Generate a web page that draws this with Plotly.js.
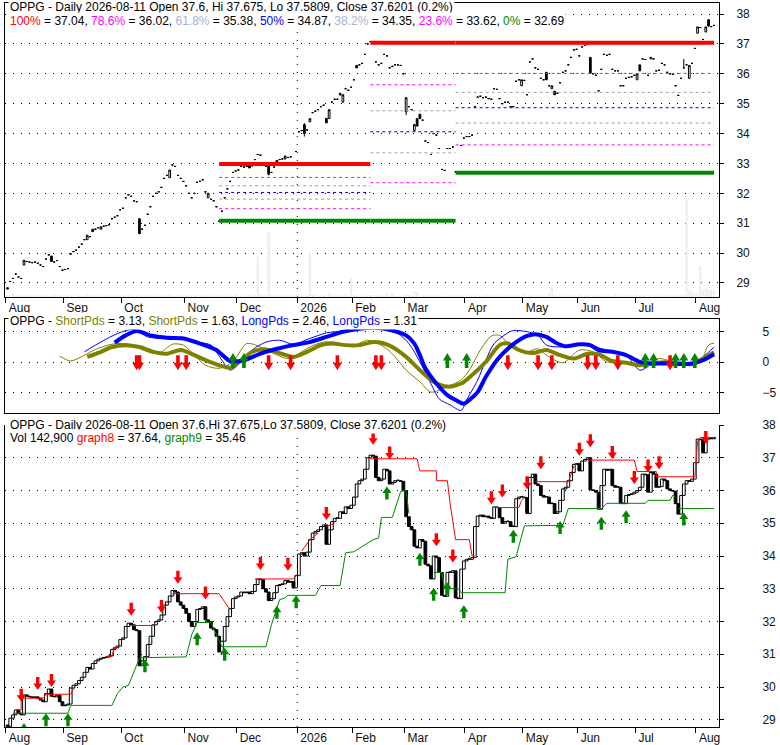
<!DOCTYPE html>
<html><head><meta charset="utf-8">
<script src="https://cdn.plot.ly/plotly-3.0.1.min.js"></script>
<style>html,body{margin:0;padding:0;background:#fff}#chart{width:780px;height:745px}</style>
</head><body><div id="chart"></div>
<script>
// ---------- DATA ----------
const holidays = ['2025-09-01','2025-11-27','2025-12-25','2026-01-01','2026-01-19','2026-02-16','2026-04-03','2026-05-25','2026-06-19','2026-07-03'];
const monthLabels = ['Aug','Sep','Oct','Nov','Dec','2026','Feb','Mar','Apr','May','Jun','Jul','Aug'];

// daily closes, trading day 0 = 2025-08-01 ... last = 2026-08-11
const closes = [
28.80,29.05,29.15,29.30,29.20,29.15,29.76,29.72,29.70,29.68,
29.70,29.66,29.60,29.55,29.80,29.94,29.72,29.70,29.75,29.55,
29.43,29.45,29.48,29.97,30.05,30.10,30.20,30.30,30.45,30.60,
30.55,30.72,30.80,30.85,30.88,30.90,30.92,30.95,31.15,31.20,
31.25,31.45,31.50,31.85,31.95,31.90,31.75,31.72,30.65,30.80,
30.93,31.30,31.55,31.90,32.00,32.05,32.20,32.50,32.60,32.78,
32.95,32.90,32.60,32.50,32.40,32.25,32.00,31.85,32.00,32.37,
32.40,32.45,32.05,32.00,31.80,31.75,31.55,31.07,31.40,31.85,
32.15,32.40,32.70,32.75,32.78,32.90,32.88,32.90,32.85,32.92,
33.13,33.30,33.28,33.00,32.90,32.64,32.70,32.88,33.10,33.13,
33.15,33.25,33.20,33.22,33.03,33.40,34.06,34.10,34.00,34.12,
34.50,34.70,34.75,34.80,34.90,34.95,34.36,34.80,35.05,35.15,
35.15,35.35,35.30,35.50,35.45,35.55,35.80,36.20,36.30,36.35,
36.65,37.00,37.08,37.05,36.40,36.30,36.35,36.65,36.60,36.20,
36.25,36.30,36.30,36.28,36.00,35.20,34.90,34.80,34.30,34.25,
34.50,34.45,33.75,33.70,33.30,34.00,33.95,33.50,32.80,32.77,
33.50,33.50,33.55,32.72,32.70,33.60,33.85,33.90,33.90,33.95,
34.90,35.22,35.25,35.20,35.22,35.17,35.15,35.50,35.48,35.17,
35.00,35.05,35.05,34.90,34.90,35.75,35.80,35.80,35.78,35.30,
36.40,36.50,36.20,36.15,35.85,35.80,35.80,35.60,35.60,35.30,
35.35,35.70,36.05,36.10,36.30,36.55,36.80,36.82,36.60,36.90,
36.95,37.00,36.02,36.00,35.95,35.43,36.15,36.65,36.62,36.65,
36.15,36.10,36.10,35.60,35.60,35.85,35.88,35.90,35.95,36.00,
36.10,36.50,36.48,35.95,36.55,36.50,36.10,36.12,36.35,36.30,
36.05,36.00,35.98,35.60,35.28,35.85,36.20,36.30,36.28,36.35,
36.85,37.57,37.55,37.15,37.57,37.60,37.58,37.62];
const firstOpen = 28.84;

// visible candle bodies in the price panel: [day, open]
const bodyOpens = [[0,28.84],[6,29.6],[16,29.9],[29,30.45],[31,30.8],[34,30.8],[48,31.15],[59,32.52],[73,31.85],
 [88,32.92],[95,32.9],[98,33.02],[101,33.15],[108,34.3],[110,34.39],[116,34.51],[117,34.5],[121,35.29],[122,35.05],
 [127,36.28],[145,34.73],[148,34.1],[149,34.5],[150,34.65],[187,35.6],[196,36.05],[198,35.5],[199,35.42],[212,36.55],
 [229,35.8],[230,36.3],[234,36.5],[248,35.85],[251,37.36],[254,37.4],[255,37.81]];
// wicks: [day, high, low]
const wicks = [[95,32.92,32.6],[108,34.35,33.9],[145,35.22,34.62],[246,36.5,36.2],[255,37.81,37.58]];

// volume (thousands)
const volume = [
30,35,80,40,30,35,40,50,30,30,35,30,30,40,35,30,30,60,30,35,
30,30,35,40,30,30,30,35,30,60,30,30,35,30,30,30,35,30,30,30,
30,50,30,30,60,30,35,30,40,30,30,35,30,30,30,30,35,30,30,60,
30,30,35,30,30,30,30,50,30,30,30,35,30,30,30,30,35,30,40,30,
30,30,35,60,30,30,30,30,60,30,40,820,60,40,40,1330,50,40,35,30,
30,35,30,30,30,40,50,45,40,40,920,60,40,35,30,30,40,80,35,30,
30,35,30,60,30,390,40,35,30,30,30,35,40,40,35,30,30,35,80,30,
80,30,35,30,40,60,50,45,120,100,40,35,30,30,35,30,30,35,30,30,
30,35,30,30,30,35,30,30,30,35,30,30,30,35,60,30,30,35,30,30,
30,35,30,30,30,35,30,30,70,30,30,35,30,30,30,35,30,80,200,60,
30,35,30,30,30,35,30,30,60,30,30,35,30,30,30,35,30,30,30,35,
30,60,30,30,30,35,30,30,30,60,30,35,30,30,30,35,30,30,30,35,
30,35,30,30,40,35,50,2080,150,120,60,80,630,150,180,160,140,143];

// Fibonacci retracement sets
const fibFrom = [77, 132, 163];
const fibTo   = [132, 163, 257];
const fibHigh = [32.98, 37.04, 37.04];
const fibLow  = [31.08, 31.08, 32.69];
const fibRatios = [0.764, 0.618, 0.5, 0.382, 0.214];

// oscillator panel: [day, value]
const shortFast = [[19,1.0],[23,0.2],[28,1.15],[32,2.1],[38,2.95],[43,3.06],[47,2.5],[51,1.7],[55,1.4],[60,2.95],[64,2.8],[68,1.15],[72,-0.5],[77,-1.0],[82,0.05],[87,3.06],[92,2.5],[97,1.4],[102,0.6],[105,1.15],[110,2.5],[115,3.3],[120,3.2],[125,2.6],[131,3.6],[135,3.0],[138,2.2],[141,0.87],[145,-1.3],[150,-3.2],[154,-4.9],[160,-4.0],[165,-2.9],[168,-1.3],[172,2.0],[176,4.3],[179,4.4],[184,2.2],[189,1.7],[193,2.2],[196,1.15],[202,-0.1],[208,2.0],[213,1.7],[218,0.05],[223,-0.1],[228,-0.2],[233,-0.5],[237,0.6],[242,0.05],[247,-0.5],[252,0.05],[255,2.8],[257,3.13]];
const shortSlow = [[29,0.87],[34,1.7],[38,2.5],[43,2.8],[48,2.5],[53,1.7],[58,1.4],[63,2.0],[68,1.15],[72,0.33],[77,-0.5],[81,-0.9],[85,0.3],[89,1.7],[94,2.1],[99,1.5],[104,0.87],[109,1.7],[114,2.8],[118,3.06],[123,2.8],[128,2.8],[133,3.3],[136,3.2],[140,2.5],[145,0.87],[150,-1.3],[155,-3.2],[160,-4.0],[165,-3.5],[169,-2.1],[174,0.05],[179,2.8],[182,3.06],[186,2.0],[191,1.5],[196,2.0],[201,1.15],[206,0.6],[211,1.4],[215,1.3],[220,0.2],[225,-0.1],[230,-0.5],[235,-0.2],[240,0.05],[245,-0.2],[249,-0.3],[253,0.6],[257,1.63]];
const longFast = [[28,1.7],[32,2.8],[40,4.7],[46,5.4],[51,4.15],[57,3.9],[63,4.0],[69,3.3],[74,2.8],[78,0.33],[81,-1.3],[85,0.05],[89,2.0],[94,3.3],[99,3.6],[104,2.95],[110,3.9],[116,4.8],[122,5.1],[128,5.7],[131,5.7],[136,5.4],[142,4.7],[146,3.06],[150,0.05],[154,-3.5],[157,-6.0],[161,-7.0],[165,-7.9],[167,-6.2],[171,-2.95],[174,0.33],[177,3.06],[182,4.8],[184,5.2],[189,5.0],[193,4.4],[196,2.8],[201,2.5],[206,2.8],[211,3.06],[216,2.2],[220,1.7],[225,1.15],[230,-1.3],[235,-0.2],[240,-0.1],[245,-0.5],[250,-0.1],[253,0.87],[257,2.46]];
const longSlow = [[39,3.2],[43,4.4],[47,5.1],[52,4.4],[58,4.0],[64,3.9],[70,3.06],[76,2.0],[81,0.2],[86,0.33],[92,1.4],[98,2.2],[104,2.8],[110,3.3],[116,4.15],[122,5.0],[128,5.5],[135,5.6],[140,5.2],[145,4.4],[148,3.06],[150,1.15],[152,-1.0],[156,-3.5],[160,-5.4],[163,-6.2],[166,-6.8],[168,-6.2],[171,-4.9],[174,-2.4],[178,0.33],[182,2.2],[185,3.3],[189,4.3],[192,4.6],[196,4.15],[200,3.06],[203,2.6],[208,2.95],[212,2.8],[215,2.0],[220,1.7],[225,1.15],[230,0.05],[235,-0.2],[240,-0.2],[245,-0.3],[249,-0.2],[253,0.33],[257,1.31]];
const oscSellDays = [47,48,62,65,95,103,120,134,136,182,193,198,211,214,222,241];
const oscBuyDays  = [82,86,160,167,232,235,243,246,250];

// lower panel stop lines: [day, value], null = gap
const stopHigh = [[3,29.3],[5,29.3],[5,29.66],[13,29.66],[14,29.78],[23,29.78],[24,29.95],null,
 [36,30.93],[38,30.95],[39,31.2],[41,31.3],null,[45,31.88],[53,31.88],[54,32.0],null,
 [60,32.85],[77,32.85],[79,32.6],[81,32.36],null,[90,33.3],[104,33.3],[105,33.4],null,
 [107,34.15],[110,34.5],[113,34.7],null,[116,34.9],[119,35.0],null,
 [132,36.97],[149,36.97],[150,36.6],[156,36.6],[156,36.3],[160,36.3],[161,35.6],[162,35.0],[163,34.5],[168,34.5],[169,34.0],[170,34.0],null,
 [177,35.48],[186,35.48],[187,35.7],[188,35.8],null,[192,36.27],[204,36.27],[205,36.5],[206,36.75],null,
 [211,36.93],[228,36.93],[229,36.58],[236,36.58],[236,36.42],[250,36.42],[251,37.5],[252,37.62],[257,37.62]];
const stopLow = [[2,29.2],[22,29.2],[23,29.44],[38,29.44],[40,29.8],[42,30.0],[44,30.05],[47,30.68],[48,30.88],[51,30.9],[65,30.92],[67,31.6],[69,31.97],[74,31.97],[76,31.6],[78,31.23],[94,31.23],[96,31.9],[99,32.67],[101,32.72],[102,32.8],[112,32.8],[114,33.1],[121,33.1],[123,34.1],[126,34.13],[133,34.5],[135,34.55],[136,35.18],[140,35.18],[143,35.97],[145,36.0],[146,35.3],null,
 [155,33.5],[158,33.5],[159,33.0],[164,33.0],[165,32.88],[181,32.88],[182,33.9],[185,33.98],[188,34.92],[202,34.94],[204,35.45],[216,35.45],[218,35.61],[232,35.61],[233,35.7],[241,35.7],[242,35.86],[243,35.8],null,
 [244,35.45],[257,35.45]];
// signal arrows in lower panel: [day, price at tip]
const sellSignals = [[5,29.55],[11,29.91],[16,30.0],[45,32.18],[56,32.26],[62,33.15],[72,32.67],[92,33.57],[102,33.55],[116,35.1],[133,37.4],[139,36.95],[156,34.3],[162,33.8],[176,35.58],[180,35.79],[189,36.04],[194,36.65],[208,37.06],[212,37.32],[220,36.96],[228,36.2],[233,36.55],[237,36.65],[254,37.42]];
const buySignals = [[6,28.9],[14,29.2],[22,29.2],[50,30.85],[69,31.67],[79,31.2],[98,32.48],[105,32.8],[138,36.12],[150,34.1],[155,33.03],[160,33.2],[166,32.5],[184,34.8],[201,35.07],[216,35.2],[225,35.4],[246,35.33]];

// ---------- BUILD ----------
const dates = [];
for (let d = new Date(Date.UTC(2025,7,1)); d <= new Date(Date.UTC(2026,7,11)); d.setUTCDate(d.getUTCDate()+1)) {
  const wd = d.getUTCDay(), s = d.toISOString().slice(0,10);
  if (wd === 0 || wd === 6 || holidays.includes(s)) continue;
  dates.push(s);
}
const tickvals = [];
dates.forEach((s,i) => { if (i === 0 || s.slice(0,7) !== dates[i-1].slice(0,7)) tickvals.push(i - 0.6); });

const N = closes.length;
const days = closes.map((_, i) => i);
const opens = closes.slice();
bodyOpens.forEach(([i,o]) => { opens[i] = o; });
const highs = days.map(i => Math.max(opens[i], closes[i]));
const lows  = days.map(i => Math.min(opens[i], closes[i]));
wicks.forEach(([i,h,l]) => { highs[i] = h; lows[i] = l; });

const xr = [-0.9, 258.8];
const FONT = '"Liberation Sans", Arial, sans-serif';
const traces = [];

// volume
traces.push({type:'bar', x:days, y:volume, xaxis:'x', yaxis:'y4', width:0.8,
  marker:{color:'#eeeeee', line:{width:0}}, hoverinfo:'skip'});

// fib lines
function fibTrace(getY, color, width, dash, sets) {
  const x = [], y = [];
  sets.forEach(k => { const v = getY(k); x.push(fibFrom[k], fibTo[k], null); y.push(v, v, null); });
  return {type:'scatter', mode:'lines', x, y, xaxis:'x', yaxis:'y', hoverinfo:'skip',
    line:{color, width, dash}};
}
const allSets = [0,1,2];
const dashColors = ['#ff00ff','#a0a0a0','#0000cc','#a0a0a0','#ff00ff'];
fibRatios.forEach((r, j) => traces.push(fibTrace(k => fibLow[k] + r*(fibHigh[k]-fibLow[k]), dashColors[j], 1, '3px,3px', allSets)));
traces.push(fibTrace(k => fibHigh[k], '#ff0000', 4, 'solid', allSets));
traces.push(fibTrace(k => fibLow[k], '#008800', 4, 'solid', allSets));

// price candles
traces.push({type:'candlestick', x:days, open:opens, high:highs, low:lows, close:closes,
  xaxis:'x', yaxis:'y', whiskerwidth:0, hoverinfo:'skip',
  increasing:{line:{color:'#000', width:1}, fillcolor:'#fff'},
  decreasing:{line:{color:'#000', width:1}, fillcolor:'#000'}});

// oscillators
function osc(pts, color, width) {
  return {type:'scatter', mode:'lines', x:pts.map(p=>p[0]), y:pts.map(p=>p[1]), xaxis:'x2', yaxis:'y2',
    line:{color, width, shape:'spline', smoothing:0.8}, hoverinfo:'skip'};
}
traces.push(osc(shortFast, '#808000', 1));
traces.push(osc(longFast, '#0000ff', 1));
traces.push(osc(shortSlow, '#808000', 4));
traces.push(osc(longSlow, '#0000ff', 4));

// stop lines
function stepLine(pts, color) {
  return {type:'scatter', mode:'lines', x:pts.map(p=>p?p[0]:null), y:pts.map(p=>p?p[1]:null),
    xaxis:'x3', yaxis:'y3', line:{color, width:1}, connectgaps:false, hoverinfo:'skip'};
}
traces.push(stepLine(stopHigh, '#ff0000'));
traces.push(stepLine(stopLow, '#008800'));

// close-to-close boxes
const upX=[], upB=[], upH=[], dnX=[], dnB=[], dnH=[];
days.forEach(i => {
  const p = i === 0 ? firstOpen : closes[i-1], c = closes[i];
  if (c >= p) { upX.push(i); upB.push(p); upH.push(Math.max(c-p, 0.02)); }
  else { dnX.push(i); dnB.push(c); dnH.push(p-c); }
});
traces.push({type:'bar', x:upX, base:upB, y:upH, xaxis:'x3', yaxis:'y3', width:1,
  marker:{color:'#fff', line:{color:'#000', width:1}}, hoverinfo:'skip'});
traces.push({type:'bar', x:dnX, base:dnB, y:dnH, xaxis:'x3', yaxis:'y3', width:1,
  marker:{color:'#000', line:{color:'#000', width:1}}, hoverinfo:'skip'});

// ---------- SHAPES ----------
const shapes = [];
function arrow(xref, yref, x, y, dir, color, h, w, s) {
  const k = dir === 'down' ? 1 : -1, hh = h*0.5;
  const path = `M0,0 L${-w/2},${k*hh} L${-s},${k*hh} L${-s},${k*h} L${s},${k*h} L${s},${k*hh} L${w/2},${k*hh} Z`;
  shapes.push({type:'path', xref, yref, xsizemode:'pixel', ysizemode:'pixel', xanchor:x, yanchor:y,
    path, fillcolor:color, line:{width:0}, layer:'above'});
}
oscSellDays.forEach(d => arrow('x2','y2', d, -1.3, 'down', '#ff0000', 15, 9, 1.8));
oscBuyDays.forEach(d => arrow('x2','y2', d, 1.5, 'up', '#008800', 15, 9, 1.8));
sellSignals.forEach(([d,v]) => arrow('x3','y3', d, v, 'down', '#ff0000', 13, 9, 1.7));
buySignals.forEach(([d,v]) => arrow('x3','y3', d, v, 'up', '#008800', 13, 9, 1.7));
const yearStart = tickvals[5];
['y','y3'].forEach((yr, j) => shapes.push({type:'line', xref: j ? 'x3' : 'x', yref: yr + ' domain',
  x0:yearStart, x1:yearStart, y0:0, y1:1, line:{color:'#000', width:1, dash:'1px,7px'}, layer:'below'}));

// ---------- LAYOUT ----------
const xCommon = {range:xr, type:'linear', showgrid:false, zeroline:false, showline:true, linecolor:'#000',
  linewidth:1, fixedrange:true, tickvals, ticktext:monthLabels, ticks:'outside', ticklen:5, tickcolor:'#000',
  ticklabelposition:'outside right', ticklabelshift:2, tickfont:{size:12, color:'#111', family:FONT}};
const yCommon = {side:'right', showgrid:true, gridcolor:'#000', gridwidth:1, griddash:'1px,7px', zeroline:false,
  showline:true, linecolor:'#000', mirror:true, ticks:'outside', ticklen:4, tickcolor:'#000', fixedrange:true,
  tickfont:{size:12, color:'#111', family:FONT}};

const C = (c, t) => `<span style="color:${c}">${t}</span>`;
const ann = (y, yshift, text) => ({xref:'paper', yref:'paper', x:0, y, xanchor:'left', yanchor:'middle', xshift:3, yshift,
  text, showarrow:false, bgcolor:'#fff', borderpad:1, font:{family:FONT, size:12, color:'#000'}});

const layout = {
  width:780, height:745, margin:{l:5, r:61, t:3, b:18},
  paper_bgcolor:'#fff', plot_bgcolor:'#fff', showlegend:false, barmode:'overlay', boxgap:0.1,
  font:{family:FONT, size:12, color:'#000'},
  xaxis: Object.assign({}, xCommon, {anchor:'y', domain:[0,1], mirror:true, rangeslider:{visible:false}}),
  yaxis: Object.assign({}, yCommon, {anchor:'x', domain:[0.5939,1], range:[28.53,38.37], tickvals:[29,30,31,32,33,34,35,36,37,38], ticklabelstandoff:10}),
  yaxis4: {overlaying:'y', range:[0,6000], visible:false, fixedrange:true},
  xaxis2: Object.assign({}, xCommon, {anchor:'y2', domain:[0,1], mirror:true, showticklabels:false, ticks:''}),
  yaxis2: Object.assign({}, yCommon, {anchor:'x2', domain:[0.4337,0.5635], range:[-8.33,7.08], tickvals:[-5,0,5], ticklabelstandoff:36}),
  xaxis3: Object.assign({}, xCommon, {anchor:'y3', domain:[0,1], mirror:false}),
  yaxis3: Object.assign({}, yCommon, {anchor:'x3', domain:[0,0.4171], range:[28.78,38.0], tickvals:[29,30,31,32,33,34,35,36,37,38], ticklabelstandoff:36}),
  shapes,
  annotations: [
    ann(1, -3.5, 'OPPG - Daily 2026-08-11 Open 37.6, Hi 37.675, Lo 37.5809, Close 37.6201 (0.2%)'),
    ann(1, -17.7, `${C('#ff0000','100%')} = 37.04, ${C('#ff00ff','78.6%')} = 36.02, ${C('#a3b3d3','61.8%')} = 35.38, ${C('#0000ff','50%')} = 34.87, ${C('#a3b3d3','38.2%')} = 34.35, ${C('#ff00ff','23.6%')} = 33.62, ${C('#008800','0%')} = 32.69`),
    ann(0.5635, -1.7, `OPPG - ${C('#808000','ShortPds')} = 3.13, ${C('#808000','ShortPds')} = 1.63, ${C('#0000ff','LongPds')} = 2.46, ${C('#0000ff','LongPds')} = 1.31`),
    ann(0.4171, 0, 'OPPG - Daily 2026-08-11 Open 37.6,Hi 37.675,Lo 37.5809, Close 37.6201 (0.2%)'),
    ann(0.4171, -13.3, `Vol 142,900 ${C('#ff0000','graph8')} = 37.64, ${C('#008800','graph9')} = 35.46`)
  ]
};

Plotly.newPlot('chart', traces, layout, {displayModeBar:false, staticPlot:true});
</script></body></html>
